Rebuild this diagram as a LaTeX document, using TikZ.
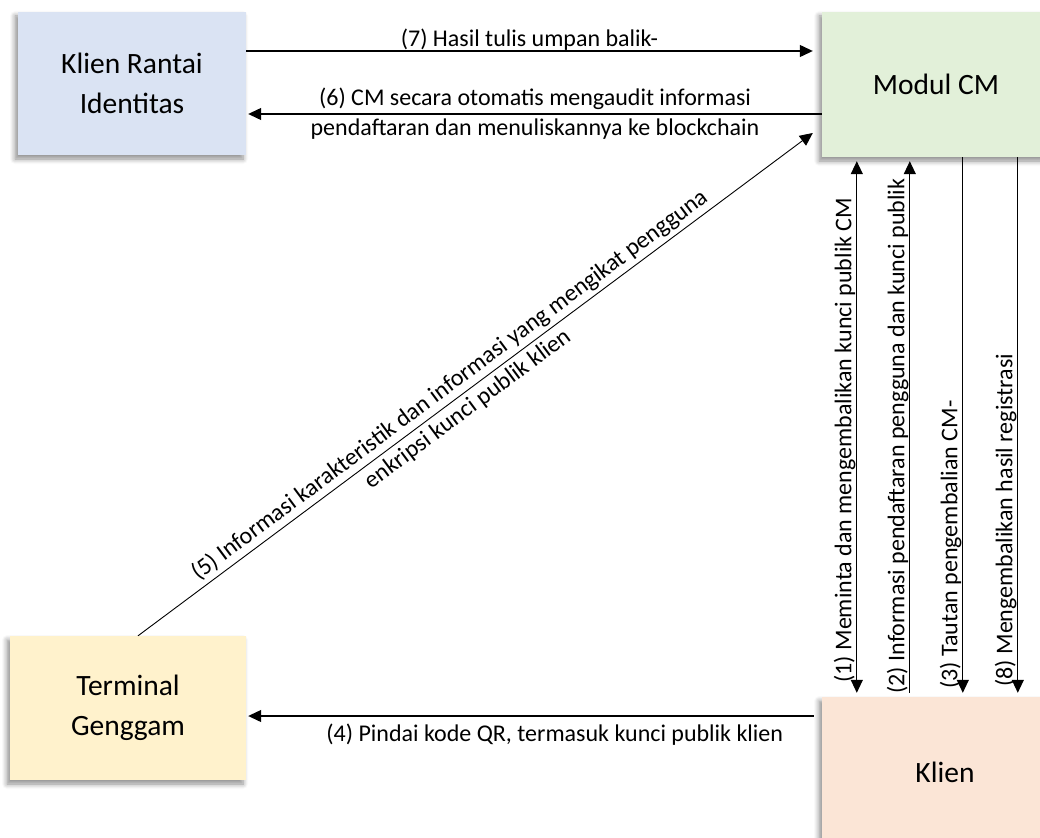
\documentclass[tikz,border=0pt]{standalone}
\usepackage{fontspec}
\setmainfont{Carlito}
\usetikzlibrary{positioning,arrows.meta,shadows.blur}
\definecolor{kribg}{HTML}{DAE3F3}
\definecolor{cmbg}{HTML}{E2F0D9}
\definecolor{termbg}{HTML}{FFF2CC}
\definecolor{klbg}{HTML}{FBE5D6}

\begin{document}
\begin{tikzpicture}[x=1pt, y=-1pt,
  box/.style={inner sep=0pt, align=center, font=\fontsize{29.5}{40}\selectfont,
    blur shadow={shadow xshift=-3pt, shadow yshift=-4pt, shadow blur radius=5pt, shadow blur steps=6, shadow opacity=45}},
  lbl/.style={font=\fontsize{24}{30}\selectfont, align=center, inner sep=0pt},
  vlbl/.style={lbl, rotate=90, anchor=south west, inner sep=1pt},
  tip/.tip={Triangle[length=13pt, width=12pt]},
  arr/.style={-tip, line width=1.2pt}]
\useasboundingbox (0,0) rectangle (1040,837);
\node[box, fill=kribg, minimum width=228pt, minimum height=143pt] (kri) at (132,83.5) {Klien Rantai\\Identitas};
\node[box, fill=cmbg, minimum width=228pt, minimum height=145pt] (cm) at (936,84.5) {Modul CM};
\node[box, fill=termbg, minimum width=236pt, minimum height=144pt] (term) at (128,708) {Terminal\\Genggam};
\node[box, fill=klbg, minimum width=246pt, minimum height=150pt] (kl) at (945,772) {Klien};
% horizontal links
\draw[arr] ([yshift=32.5pt]kri.east) -- ([xshift=-9pt, yshift=33.5pt]cm.west)
  node[lbl, midway, anchor=base, yshift=4pt] {(7) Hasil tulis umpan balik-};
\draw[arr] ([yshift=-29.5pt]cm.west) -- ([xshift=2pt, yshift=-30.5pt]kri.east)
  node[lbl, midway] {(6) CM secara otomatis mengaudit informasi\\pendaftaran dan menuliskannya ke blockchain};
\draw[arr] ([xshift=-8pt, yshift=56pt]kl.west) -- ([xshift=2pt, yshift=-8pt]term.east)
  node[lbl, pos=0.458, anchor=base, yshift=-25pt] {(4) Pindai kode QR, termasuk kunci publik klien};
\draw[arr, line width=0.9pt] ([xshift=10pt]term.north) -- ([xshift=-9pt, yshift=-48.5pt]cm.west)
  node[lbl, pos=0.475, sloped] {(5) Informasi karakteristik dan informasi yang mengikat pengguna\\enkripsi kunci publik klien};
% vertical links
\coordinate (v1t) at ([xshift=35pt, yshift=-4pt]cm.south west);
\coordinate (v1b) at ([xshift=35pt, yshift=4pt]kl.north west);
\coordinate (v2t) at ([xshift=88pt, yshift=-4pt]cm.south west);
\coordinate (v2b) at ([xshift=88pt, yshift=4pt]kl.north west);
\coordinate (v3t) at ([xshift=141pt]cm.south west);
\coordinate (v3b) at ([xshift=141pt, yshift=4pt]kl.north west);
\coordinate (v8t) at ([xshift=196pt]cm.south west);
\coordinate (v8b) at ([xshift=196pt, yshift=4pt]kl.north west);
\draw[arr, tip-tip] (v1t) -- (v1b);
\draw[arr, tip-] (v2t) -- (v2b);
\draw[arr] (v3t) -- (v3b);
\draw[arr] (v8t) -- (v8b);
\node[vlbl] (l1) at ([yshift=9pt]v1b) {(1) Meminta dan mengembalikan kunci publik CM};
\node[vlbl] (l2) at ([yshift=-2pt]v2b) {(2) Informasi pendaftaran pengguna dan kunci publik};
\node[vlbl] (l3) at ([yshift=3pt]v3b) {(3) Tautan pengembalian CM-};
\node[vlbl] (l8) at ([yshift=5pt]v8b) {(8) Mengembalikan hasil registrasi};
\end{tikzpicture}
\end{document}
